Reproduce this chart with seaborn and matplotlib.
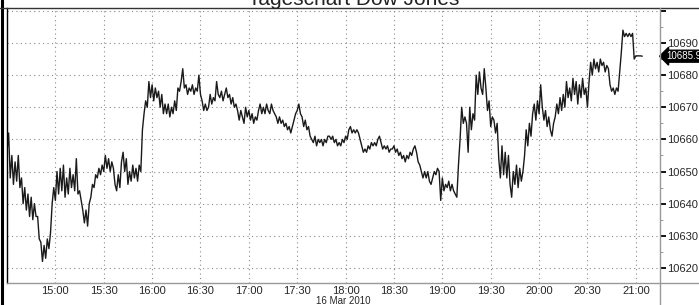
import pandas as pd
import numpy as np
import matplotlib
matplotlib.use("Agg")
import matplotlib.pyplot as plt
import matplotlib.dates as mdates
from matplotlib.ticker import FixedLocator, MultipleLocator
import seaborn as sns

# ── Data (one value per minute from 14:30) ────
start = "2010-03-16 14:30"
prices = [
    10656, 10662, 10648, 10655, 10646, 10653, 10647, 10655, 10645, 10648,
    10640, 10645, 10638, 10643, 10636, 10642, 10635, 10640, 10636, 10636,
    10629, 10628, 10622, 10627, 10623, 10629, 10626, 10631, 10640, 10645,
    10641, 10650, 10643, 10651, 10644, 10652, 10642, 10648, 10643, 10651,
    10645, 10649, 10644, 10654, 10643, 10644, 10641, 10638, 10634, 10638,
    10633, 10640, 10642, 10646, 10645, 10649, 10648, 10651, 10649, 10652,
    10650, 10655, 10651, 10654, 10650, 10653, 10651, 10646, 10644, 10649,
    10645, 10653, 10656, 10650, 10654, 10646, 10650, 10647, 10652, 10648,
    10651, 10647, 10652, 10650, 10663, 10668, 10672, 10670, 10678, 10673,
    10677, 10672, 10676, 10673, 10675, 10670, 10674, 10668, 10671, 10668,
    10671, 10667, 10670, 10668, 10672, 10669, 10676, 10675, 10678, 10682,
    10676, 10677, 10674, 10676, 10675, 10677, 10674, 10676, 10675, 10680,
    10674, 10672, 10669, 10671, 10669, 10670, 10674, 10671, 10673, 10672,
    10678, 10674, 10673, 10675, 10672, 10674, 10676, 10673, 10674, 10671,
    10673, 10670, 10671, 10669, 10666, 10669, 10667, 10665, 10670, 10667,
    10669, 10666, 10668, 10665, 10667, 10666, 10669, 10671, 10668, 10670,
    10668, 10671, 10669, 10668, 10671, 10669, 10668, 10667, 10665, 10667,
    10665, 10666, 10664, 10665, 10663, 10664, 10662, 10664, 10666, 10668,
    10669, 10671, 10668, 10667, 10664, 10666, 10663, 10664, 10661, 10660,
    10659, 10661, 10658, 10660, 10659, 10660, 10658, 10660, 10659, 10661,
    10661, 10660, 10661, 10659, 10660, 10658, 10659, 10658, 10660, 10659,
    10661, 10660, 10663, 10664, 10662, 10663, 10662, 10663, 10662, 10660,
    10658, 10656, 10657, 10656, 10658, 10657, 10659, 10658, 10659, 10658,
    10660, 10661, 10659, 10657, 10658, 10657, 10658, 10656, 10657, 10657,
    10658, 10656, 10657, 10655, 10656, 10654, 10655, 10653, 10655, 10654,
    10656, 10655, 10657, 10658, 10656, 10653, 10652, 10650, 10648, 10650,
    10648, 10650, 10647, 10646, 10648, 10650, 10649, 10651, 10650, 10641,
    10648, 10644, 10646, 10645, 10647, 10644, 10646, 10644, 10643, 10642,
    10652, 10660, 10670, 10665, 10667, 10665, 10656, 10670, 10663, 10668,
    10666, 10680, 10674, 10681, 10676, 10674, 10682, 10676, 10669, 10672,
    10664, 10667, 10666, 10662, 10665, 10654, 10648, 10658, 10649, 10656,
    10648, 10655, 10646, 10642, 10650, 10646, 10652, 10645, 10651, 10647,
    10650, 10655, 10663, 10658, 10665, 10661, 10668, 10671, 10666, 10672,
    10668, 10677, 10670, 10666, 10669, 10664, 10667, 10663, 10661, 10665,
    10667, 10671, 10668, 10673, 10669, 10674, 10670, 10678, 10673, 10676,
    10672, 10679, 10674, 10678, 10671, 10677, 10673, 10679, 10674, 10676,
    10670, 10678, 10684, 10680, 10685, 10682, 10684, 10681, 10685, 10683,
    10684, 10681, 10683, 10682, 10677, 10675, 10676, 10674, 10676, 10675,
    10681, 10687, 10694, 10692, 10693, 10692, 10693, 10692, 10693, 10685,
    10686, 10686, 10686, 10686, 10685.9,
]
xticks = ["15:00", "15:30", "16:00", "16:30", "17:00", "17:30", "18:00",
          "18:30", "19:00", "19:30", "20:00", "20:30", "21:00"]
yticks = [10620, 10630, 10640, 10650, 10660, 10670, 10680, 10690, 10700]
ylabels = ["10620", "10630", "10640", "10650", "10660", "10670", "10680", "10690", ""]
last_label = "10685.9"
title = "Tageschart Dow Jones"
date_label = "16 Mar 2010"

df = pd.DataFrame({
    "time": pd.date_range(start, periods=len(prices), freq="min"),
    "price": prices,
})
xtick_times = [pd.Timestamp("2010-03-16 " + t) for t in xticks]

# ── Plot ───────────────────────────────────────────────────────────
sns.set_style("white")
plt.rcParams["font.family"] = ["Liberation Sans", "DejaVu Sans"]

W, H = 699, 305
fig = plt.figure(figsize=(W / 100, H / 100), dpi=100)
ax = fig.add_axes([7 / W, 22 / H, (660 - 7) / W, (283 - 8) / H])

sns.lineplot(data=df, x="time", y="price", ax=ax, color="#1a1a1a", lw=1.0)

ax.set_xlim(pd.Timestamp("2010-03-16 14:30"), pd.Timestamp("2010-03-16 21:15"))
ax.set_ylim(10615.3, 10700.9)
ax.set_xlabel("")
ax.set_ylabel("")

ax.set_xticks(xtick_times)
ax.set_xticklabels(xticks)
ax.xaxis.set_minor_locator(mdates.MinuteLocator(byminute=[15, 45]))
ax.yaxis.tick_right()
ax.yaxis.set_major_locator(FixedLocator(yticks))
ax.set_yticklabels(ylabels)
ax.yaxis.set_minor_locator(MultipleLocator(5))

ax.tick_params(axis="x", which="major", labelsize=8, length=2, color="#888888", pad=0)
ax.tick_params(axis="x", which="minor", length=2, color="#555555")
ax.tick_params(axis="y", which="major", labelsize=8, length=4, width=1.3, color="black", pad=1)
ax.tick_params(axis="y", which="minor", length=2, color="#888888")

ax.grid(True, which="major", color="#8a8a8a", lw=0.8, linestyle=(0, (1, 3)))

for side in ["top", "right", "bottom", "left"]:
    ax.spines[side].set_visible(False)
ax.spines["left"].set_visible(True)
ax.spines["left"].set_color("black")
ax.spines["left"].set_linewidth(1.0)

# frame lines of the chart panel
fig.add_artist(plt.Line2D([1.5 / W, 1.5 / W], [0, 1], color="black", lw=2.2))
fig.add_artist(plt.Line2D([0, 1], [1 - 8 / H, 1 - 8 / H], color="#333333", lw=1.0))
fig.add_artist(plt.Line2D([7 / W, 1], [22 / H, 22 / H], color="#999999", lw=1.0))
fig.add_artist(plt.Line2D([660 / W, 660 / W], [0, 1 - 8 / H], color="#999999", lw=1.0))

# last value marker
ax.annotate(last_label, xy=(1.0, prices[-1]), xycoords=ax.get_yaxis_transform(),
            xytext=(1.009, prices[-1]), textcoords=ax.get_yaxis_transform(),
            color="white", fontsize=7, va="center", ha="left",
            bbox=dict(boxstyle="larrow,pad=0.1", fc="black", ec="black"),
            annotation_clip=False)

fig.text(354 / W, 1 - 5 / H, title, ha="center", va="baseline", fontsize=15, color="#222222")
fig.text(343 / W, 1 - 301 / H, date_label, ha="center", va="center", fontsize=7)

fig.savefig("out.png", dpi=100)
